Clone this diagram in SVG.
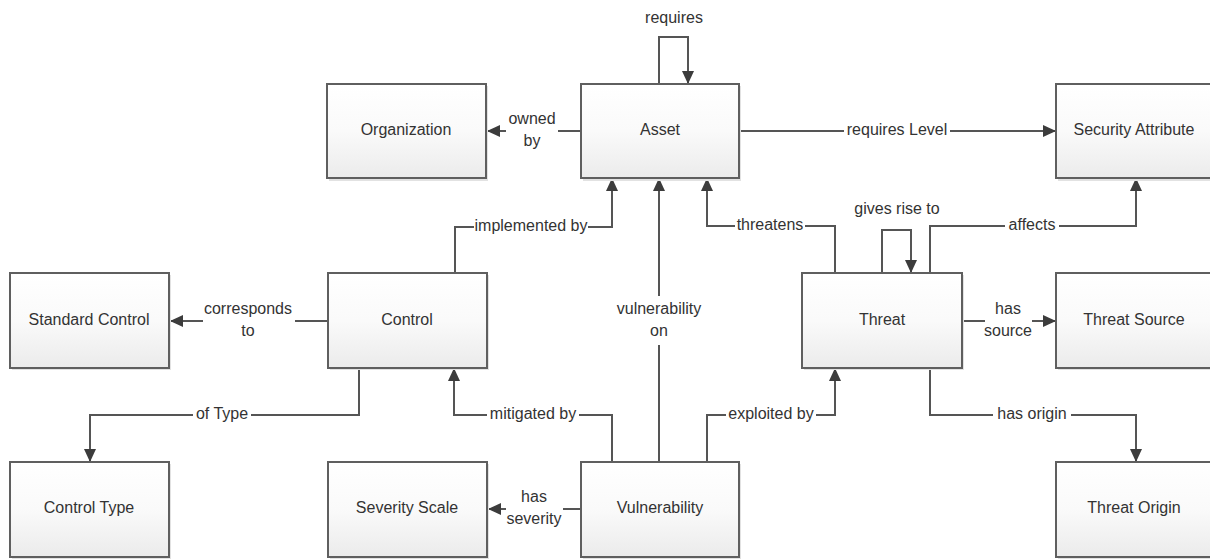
<svg xmlns="http://www.w3.org/2000/svg" width="1210" height="559" viewBox="0 0 1210 559">
<defs>
<linearGradient id="g" x1="0" y1="0" x2="0" y2="1">
<stop offset="0" stop-color="#ffffff"/>
<stop offset="0.5" stop-color="#fafafa"/>
<stop offset="1" stop-color="#ebebeb"/>
</linearGradient>
<marker id="ah" markerUnits="userSpaceOnUse" markerWidth="14" markerHeight="14" refX="13" refY="7" orient="auto">
<path d="M0,1 L13,7 L0,13 z" fill="#3c3c3c"/>
</marker>
</defs>
<style>
.box{fill:url(#g);stroke:#5f5f5f;stroke-width:2}
.sh{fill:#e2e2e2}
.t{font-family:"Liberation Sans",Arial,sans-serif;font-size:16px;fill:#333;text-anchor:middle;dominant-baseline:middle}
.c{fill:none;stroke:#555;stroke-width:2}
.a{marker-end:url(#ah)}
.bg{fill:#fff}
</style>
<rect width="1210" height="559" fill="#fff"/>
<g id="connectors">
<path class="c a" d="M659,84 V37 H688 V84"/>
<text class="t" x="674" y="19">requires</text>
<path class="c" d="M581,131 H558"/>
<path class="c a" d="M506,131 H487"/>
<text class="t" x="532" y="120">owned</text>
<text class="t" x="532" y="142">by</text>
<path class="c a" d="M739,131 H1056"/>
<rect class="bg" x="844" y="121" width="106" height="20"/>
<text class="t" x="897" y="131">requires Level</text>
<path class="c a" d="M455,273 V227 H612 V178"/>
<rect class="bg" x="474" y="217" width="114" height="20"/>
<text class="t" x="531" y="227">implemented by</text>
<path class="c" d="M659,462 V345"/>
<path class="c a" d="M659,296 V178"/>
<text class="t" x="659" y="310">vulnerability</text>
<text class="t" x="659" y="332">on</text>
<path class="c a" d="M835,273 V226 H707 V178"/>
<rect class="bg" x="735" y="216" width="70" height="20"/>
<text class="t" x="770" y="226">threatens</text>
<path class="c a" d="M882,273 V230 H911 V273"/>
<text class="t" x="897" y="210">gives rise to</text>
<path class="c a" d="M930,273 V226 H1136 V178"/>
<rect class="bg" x="1005" y="216" width="54" height="20"/>
<text class="t" x="1032" y="226">affects</text>
<path class="c" d="M962,321 H985"/>
<path class="c a" d="M1032,321 H1056"/>
<text class="t" x="1008" y="310">has</text>
<text class="t" x="1008" y="332">source</text>
<path class="c" d="M328,321 H295"/>
<path class="c a" d="M203,321 H170"/>
<text class="t" x="248" y="310">corresponds</text>
<text class="t" x="248" y="332">to</text>
<path class="c a" d="M359,368 V415 H90 V462"/>
<rect class="bg" x="193" y="405" width="58" height="20"/>
<text class="t" x="222" y="415">of Type</text>
<path class="c a" d="M612,462 V415 H454 V368"/>
<rect class="bg" x="487" y="405" width="92" height="20"/>
<text class="t" x="533" y="415">mitigated by</text>
<path class="c" d="M581,509 H563"/>
<path class="c a" d="M506,509 H488"/>
<text class="t" x="534" y="498">has</text>
<text class="t" x="534" y="520">severity</text>
<path class="c a" d="M707,462 V415 H835 V368"/>
<rect class="bg" x="726" y="405" width="90" height="20"/>
<text class="t" x="771" y="415">exploited by</text>
<path class="c a" d="M930,368 V415 H1136 V462"/>
<rect class="bg" x="993" y="405" width="78" height="20"/>
<text class="t" x="1032" y="415">has origin</text>
</g>
<g id="organization"><rect class="sh" x="329" y="86" width="159" height="95"/><rect class="box" x="327" y="84" width="159" height="94"/><text class="t" x="406" y="131">Organization</text></g>
<g id="asset"><rect class="sh" x="583" y="86" width="158" height="95"/><rect class="box" x="581" y="84" width="158" height="94"/><text class="t" x="660" y="131">Asset</text></g>
<g id="security-attribute"><rect class="sh" x="1058" y="86" width="159" height="95"/><rect class="box" x="1056" y="84" width="159" height="94"/><text class="t" x="1134" y="131">Security Attribute</text></g>
<g id="standard-control"><rect class="sh" x="12" y="275" width="159" height="95"/><rect class="box" x="10" y="273" width="159" height="95"/><text class="t" x="89" y="321">Standard Control</text></g>
<g id="control"><rect class="sh" x="330" y="275" width="159" height="95"/><rect class="box" x="328" y="273" width="159" height="95"/><text class="t" x="407" y="321">Control</text></g>
<g id="threat"><rect class="sh" x="804" y="275" width="160" height="95"/><rect class="box" x="802" y="273" width="160" height="95"/><text class="t" x="882" y="321">Threat</text></g>
<g id="threat-source"><rect class="sh" x="1058" y="275" width="159" height="95"/><rect class="box" x="1056" y="273" width="159" height="95"/><text class="t" x="1134" y="321">Threat Source</text></g>
<g id="control-type"><rect class="sh" x="12" y="464" width="159" height="95"/><rect class="box" x="10" y="462" width="159" height="95"/><text class="t" x="89" y="509">Control Type</text></g>
<g id="severity-scale"><rect class="sh" x="330" y="464" width="159" height="95"/><rect class="box" x="328" y="462" width="159" height="95"/><text class="t" x="407" y="509">Severity Scale</text></g>
<g id="vulnerability"><rect class="sh" x="583" y="464" width="158" height="95"/><rect class="box" x="581" y="462" width="158" height="95"/><text class="t" x="660" y="509">Vulnerability</text></g>
<g id="threat-origin"><rect class="sh" x="1058" y="464" width="159" height="95"/><rect class="box" x="1056" y="462" width="159" height="95"/><text class="t" x="1134" y="509">Threat Origin</text></g>
</svg>
